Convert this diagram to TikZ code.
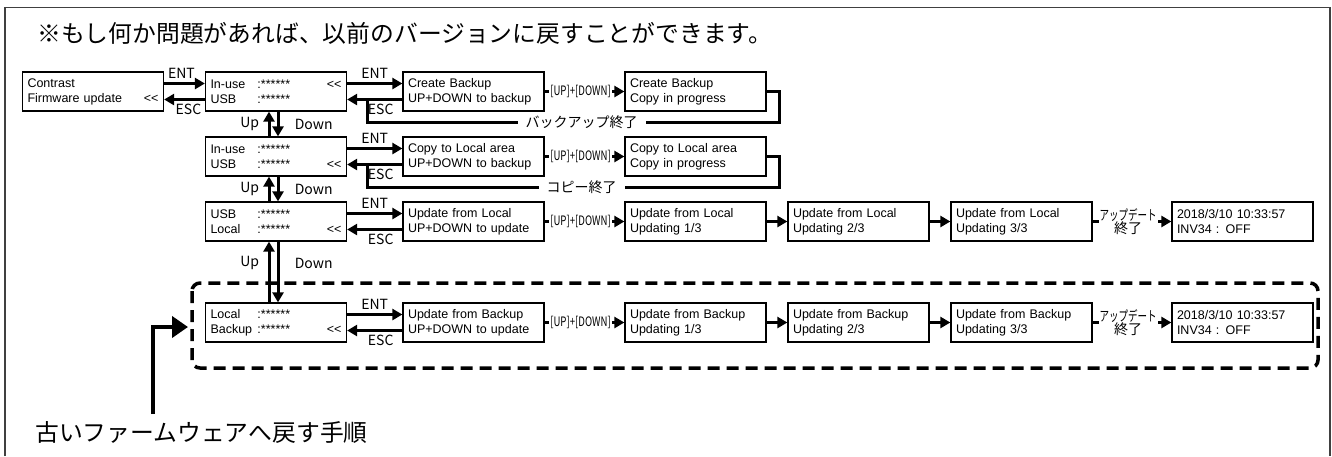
\documentclass[tikz,border=0pt]{standalone}
\usepackage{fontspec}
\usepackage{graphicx}
\setmainfont{Liberation Sans}
\newfontfamily\jpfont{Noto Sans CJK JP}
\usepackage{tikz}
\usetikzlibrary{arrows.meta}

\newcommand{\sel}{<\kern0pt<}
\newcommand{\dev}[1]{\makebox[47pt][l]{#1}:******}
\newcommand{\updn}{\fontsize{13}{15}\selectfont\scalebox{0.74}[1]{[UP]+[DOWN]}}
\newcommand{\done}{\scalebox{0.68}[1]{アップデート}\\[-3pt]終了}

\begin{document}
\begin{tikzpicture}[
    x=1pt, y=-1pt,
    >={Triangle[length=10pt,width=11pt]},
    every node/.style={font=\fontsize{12.5}{15}\selectfont},
    lcd/.style={draw, line width=1.3pt, text width=131pt, inner sep=5pt,
      minimum height=39pt, align=left},
    lbl/.style={font=\jpfont\fontsize{14}{16}\selectfont},
    wire/.style={line width=3pt},
    grp/.style={line width=3.5pt, dash pattern=on 12pt off 7pt, rounded corners=8pt},
    bigarr/.style={line width=4.5pt, -{Triangle[length=16pt,width=21pt]}}
  ]
    \useasboundingbox (0,0) rectangle (1332,456);
    \draw[black!75, line width=1.6pt] (5,456) |- (1330,7.5) -- (1330,456);

    \node[anchor=west, inner sep=0, font=\jpfont\fontsize{23.8}{26}\selectfont] (T) at (37,33)
      {※もし何か問題があれば、以前のバージョンに戻すことができます。};
    \node[anchor=west, inner sep=0, font=\jpfont\fontsize{23.8}{26}\selectfont] (H) at (35,432)
      {古いファームウェアへ戻す手順};

    \draw[grp] (192,283) rectangle (1318,368);

    % menu column
    \node[lcd] (A0) at (93,91.5) {Contrast\\Firmware update\hfill\sel\hspace*{5pt}};
    \node[lcd] (M1) at (276,91.5) {\dev{In-use}\hfill\sel\hspace*{6pt}\\\dev{USB}};
    \node[lcd] (M2) at (276,156.5) {\dev{In-use}\\\dev{USB}\hfill\sel\hspace*{6pt}};
    \node[lcd] (M3) at (276,221.5) {\dev{USB}\\\dev{Local}\hfill\sel\hspace*{6pt}};
    \node[lcd] (M4) at (276,322.5) {\dev{Local}\\\dev{Backup}\hfill\sel\hspace*{6pt}};

    % second column
    \node[lcd] (S1) at (473.5,91.5) {Create Backup\\UP+DOWN to backup};
    \node[lcd] (S2) at (473.5,156.5) {Copy to Local area\\UP+DOWN to backup};
    \node[lcd] (S3) at (473.5,221.5) {Update from Local\\UP+DOWN to update};
    \node[lcd] (S4) at (473.5,322.5) {Update from Backup\\UP+DOWN to update};

    \node[lcd] (P1) at (695.5,91.5) {Create Backup\\Copy in progress};
    \node[lcd] (P2) at (695.5,156.5) {Copy to Local area\\Copy in progress};
    \node[lcd] (P3) at (695.5,221.5) {Update from Local\\Updating 1/3};
    \node[lcd] (P4) at (695.5,322.5) {Update from Backup\\Updating 1/3};

    \node[lcd] (Q3) at (858.5,221.5) {Update from Local\\Updating 2/3};
    \node[lcd] (Q4) at (858.5,322.5) {Update from Backup\\Updating 2/3};
    \node[lcd] (R3) at (1021.5,221.5) {Update from Local\\Updating 3/3};
    \node[lcd] (R4) at (1021.5,322.5) {Update from Backup\\Updating 3/3};
    \node[lcd] (D3) at (1242.5,221.5) {2018/3/10 10:33:57\\INV34 : OFF};
    \node[lcd] (D4) at (1242.5,322.5) {2018/3/10 10:33:57\\INV34 : OFF};

    % ENT / ESC
    \draw[wire,->] ([yshift=8pt]A0.east) -- node[lbl,above,xshift=-3pt] {ENT} ([yshift=8pt]M1.west);
    \draw[wire,->] ([yshift=-8pt]M1.west) -- node[lbl,below,xshift=4pt] {ESC} ([yshift=-8pt]A0.east);
    \foreach \r in {1,2,3,4} {
      \draw[wire,->] ([yshift=8pt]M\r.east) -- node[lbl,above] {ENT} ([yshift=8pt]S\r.west);
      \draw[wire,->] ([yshift=-8pt]S\r.west) -- node[lbl,below,xshift=6pt] {ESC} ([yshift=-8pt]M\r.east);
      \draw[wire,->] (S\r) -- node[lbl,pos=0.45,fill=white,inner xsep=1.5pt,inner ysep=0pt] {\updn} (P\r);
    }

    % Up / Down
    \draw[wire,->] ([xshift=-7pt]M2.north) -- node[lbl,left=5pt] {Up} ([xshift=-7pt]M1.south);
    \draw[wire,->] ([xshift=2pt]M1.south) -- node[lbl,right=12pt] {Down} ([xshift=2pt]M2.north);
    \draw[wire,->] ([xshift=-7pt]M3.north) -- node[lbl,left=5pt] {Up} ([xshift=-7pt]M2.south);
    \draw[wire,->] ([xshift=2pt]M2.south) -- node[lbl,right=12pt] {Down} ([xshift=2pt]M3.north);
    \draw[wire,->] ([xshift=-7pt]M4.north) -- node[lbl,left=5pt,yshift=9pt] {Up} ([xshift=-7pt]M3.south);
    \draw[wire,->] ([xshift=2pt]M3.south) -- node[lbl,right=12pt,yshift=9pt] {Down} ([xshift=2pt]M4.north);

    % back to menu when finished
    \coordinate (J1) at ([xshift=20pt,yshift=-8pt]M1.east);
    \coordinate (J2) at ([xshift=20pt,yshift=-8pt]M2.east);
    \draw[wire] (P1.east) -- ++(13,0) |- node[lbl,pos=0.74,fill=white,inner xsep=8pt,inner ysep=0pt] {バックアップ終了} ([yshift=-22.5pt]J1) -- (J1);
    \draw[wire] (P2.east) -- ++(13,0) |- node[lbl,pos=0.74,fill=white,inner xsep=8pt,inner ysep=0pt] {コピー終了} ([yshift=-22.5pt]J2) -- (J2);

    % updating
    \foreach \r in {3,4} {
      \draw[wire,->] (P\r) -- (Q\r);
      \draw[wire,->] (Q\r) -- (R\r);
      \draw[wire,->] (R\r) -- node[lbl,pos=0.45,fill=white,align=center,inner xsep=1pt,inner ysep=0pt] {\done} (D\r);
    }

    \coordinate (K0) at (153,414);
    \coordinate (K1) at (188,327);
    \draw[bigarr] (K0) |- (K1);
  \end{tikzpicture}
\end{document}
